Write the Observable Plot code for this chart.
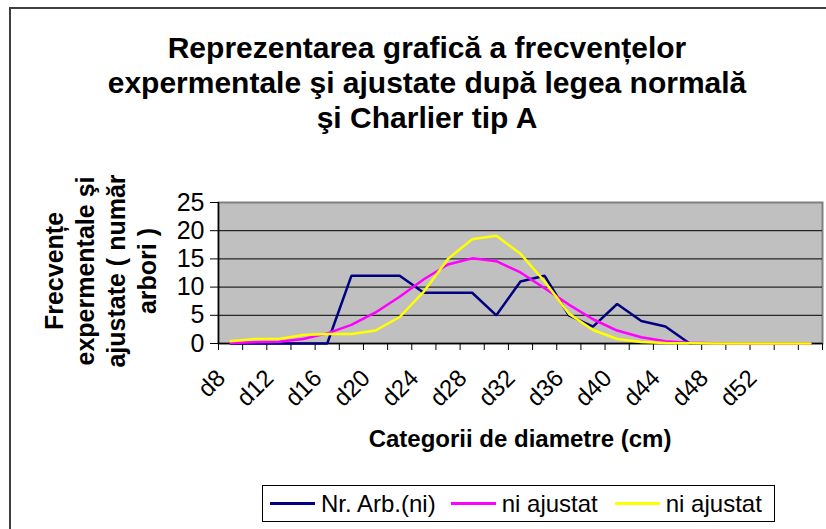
<!DOCTYPE html>
<html>
<head>
<meta charset="utf-8">
<script src="https://cdn.jsdelivr.net/npm/d3@7"></script>
<script src="https://cdn.jsdelivr.net/npm/@observablehq/plot@0.6"></script>
<style>
  html, body { margin: 0; padding: 0; background: #fff; }
  #wrap { position: relative; width: 826px; height: 529px; overflow: hidden;
          font-family: "Liberation Sans", Arial, sans-serif; color: #000; }
  #chart { position: absolute; left: 0; top: 0; }
  #border { position: absolute; left: 9px; top: 7px; width: 840px; height: 540px;
            border: 2px solid #3f3f3f; box-sizing: border-box; pointer-events: none; }
  #title { position: absolute; left: 0; top: 30px; width: 854px; text-align: center;
           font-weight: bold; font-size: 30px; line-height: 35px; white-space: nowrap; }
  #ytitle { position: absolute; width: 300px; height: 124px; left: -49px; top: 209px;
            transform: rotate(-90deg); text-align: center; font-weight: bold;
            font-size: 25px; line-height: 31px; white-space: nowrap; }
  #xtitle { position: absolute; left: 220px; width: 600px; top: 424px; text-align: center;
            font-weight: bold; font-size: 24px; line-height: 30px; white-space: nowrap; }
  #legend { position: absolute; left: 262px; top: 485px; width: 513px; height: 37px;
            box-sizing: border-box; border: 1px solid #000; background: #fff;
            display: flex; align-items: center; padding-left: 7px; font-size: 24px; white-space: nowrap; }
  .sw { display: inline-block; width: 45px; height: 3px; margin-right: 6px; }
  .item { display: flex; align-items: center; }
</style>
</head>
<body>
<div id="wrap">
  <div id="chart"></div>
  <div id="border"></div>
  <div id="title"></div>
  <div id="ytitle"></div>
  <div id="xtitle"></div>
  <div id="legend"></div>
</div>
<script>
// ---- data ----
const categories = ["d8","d10","d12","d14","d16","d18","d20","d22","d24","d26","d28","d30","d32",
                    "d34","d36","d38","d40","d42","d44","d46","d48","d50","d52","d54","d56"];
const xTickLabels = ["d8","d12","d16","d20","d24","d28","d32","d36","d40","d44","d48","d52"];
const yTicks = [0, 5, 10, 15, 20, 25];
const nrArb = [0,0,0,0,0,12,12,12,9,9,9,5,11,12,5,3,7,4,3,0,0,0,0,0,0];
const niAjustatNormal = [0.1,0.2,0.3,0.8,1.8,3.3,5.5,8.3,11.4,14.0,15.1,14.6,12.6,9.8,6.9,4.3,2.3,1.1,0.4,0.15,0.05,0.02,0,0,0];
const niAjustatCharlier = [0.4,0.8,0.8,1.5,1.7,1.7,2.3,4.7,9.2,15.0,18.5,19.1,15.9,11.0,5.3,2.4,0.8,0.25,0.1,0.05,0,0,0,0,0];
const seriesNames = ["Nr. Arb.(ni)", "ni ajustat", "ni ajustat"];
const seriesColors = ["#000080", "#ff00ff", "#ffff00"];
const titleLines = ["Reprezentarea grafică a frecvențelor",
                    "expermentale şi ajustate după legea normală",
                    "şi Charlier tip A"];
const yTitleLines = ["Frecvențe", "expermentale şi", "ajustate ( număr", "arbori )"];
const xTitle = "Categorii de diametre (cm)";

// ---- derived ----
const xDomain = [-0.5, categories.length - 0.5];
const boundaries = d3.range(categories.length + 1).map(i => i - 0.5);
const labelIdx = xTickLabels.map(l => categories.indexOf(l));
const gridVals = yTicks.slice(1, -1);
const toRows = vals => vals.map((v, i) => ({i, v}));
const allSeries = [nrArb, niAjustatNormal, niAjustatCharlier];

const plot = Plot.plot({
  width: 826,
  height: 529,
  marginTop: 202,
  marginBottom: 186,
  marginLeft: 218,
  marginRight: 4,
  style: {fontFamily: "'Liberation Sans', Arial, sans-serif", fontSize: "24px", color: "#000", background: "transparent"},
  x: {domain: xDomain},
  y: {domain: [yTicks[0], yTicks[yTicks.length - 1]]},
  marks: [
    Plot.frame({fill: "#c0c0c0", stroke: "#808080", strokeWidth: 2}),
    Plot.ruleY(gridVals, {stroke: "#000", strokeWidth: 1}),
    Plot.axisY(yTicks, {tickSize: 8, tickPadding: 6, fontSize: 25, label: null, stroke: "#000", fill: "#000"}),
    Plot.axisX(boundaries, {tickSize: 7, tickFormat: () => "", label: null, stroke: "#000"}),
    Plot.ruleY([yTicks[0]], {stroke: "#000", strokeWidth: 1.5}),
    Plot.ruleX([xDomain[0]], {stroke: "#000", strokeWidth: 1.5}),
    Plot.text(labelIdx, {
      x: d => d, frameAnchor: "bottom", dx: -4, dy: 36, rotate: -45,
      textAnchor: "end", lineAnchor: "bottom", text: d => categories[d],
      fontSize: 24, fill: "#000"
    }),
    ...allSeries.map((vals, k) => Plot.line(toRows(vals), {
      x: "i", y: "v", stroke: seriesColors[k], strokeWidth: 2.5, strokeLinejoin: "miter"
    }))
  ]
});
document.getElementById("chart").appendChild(plot);

document.getElementById("title").innerHTML = titleLines.join("<br>");
document.getElementById("ytitle").innerHTML = yTitleLines.join("<br>");
document.getElementById("xtitle").textContent = xTitle;

const legend = document.getElementById("legend");
const gaps = [0, 15, 17];
seriesNames.forEach((name, k) => {
  const item = document.createElement("div");
  item.className = "item";
  item.style.marginLeft = gaps[k] + "px";
  const sw = document.createElement("span");
  sw.className = "sw";
  sw.style.background = seriesColors[k];
  const t = document.createElement("span");
  t.textContent = name;
  item.appendChild(sw);
  item.appendChild(t);
  legend.appendChild(item);
});
</script>
</body>
</html>
